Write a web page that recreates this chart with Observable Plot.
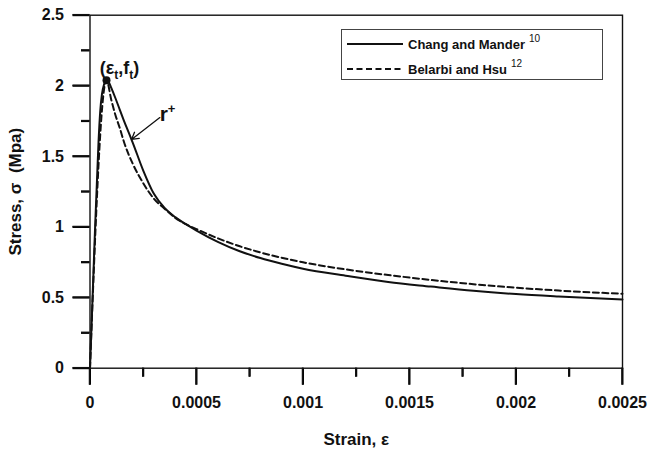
<!DOCTYPE html>
<html>
<head>
<meta charset="utf-8">
<script src="https://cdn.jsdelivr.net/npm/d3@7"></script>
<script src="https://cdn.jsdelivr.net/npm/@observablehq/plot@0.6"></script>
<style>
  html, body { margin: 0; padding: 0; background: #fff; }
  #chart { position: relative; width: 648px; height: 453px; font-family: "Liberation Sans", Arial, sans-serif; }
  #legend {
    position: absolute; left: 341px; top: 29px; width: 262px; height: 51px;
    border: 1px solid #444; box-sizing: border-box; background: #fff;
    font-weight: bold; font-size: 13px; color: #111;
  }
  #legend .row { position: absolute; left: 5px; height: 16px; display: flex; align-items: center; }
  #legend .row svg { margin-right: 5px; }
  #legend sup { font-size: 10px; font-weight: normal; position: relative; top: -2px; margin-left: 4px; }
</style>
</head>
<body>
<div id="chart"></div>
<script>
// Chang and Mander (solid): strain and stress (MPa)
const changStrain = [0, 0.000006, 0.000012, 0.000018, 0.000024, 0.000032, 0.00004, 0.000048, 0.000056, 0.000066, 0.0000775,
  0.00009, 0.0001, 0.00012, 0.00014, 0.00016, 0.00018, 0.0002, 0.00025, 0.0003, 0.00035, 0.0004, 0.00045, 0.0005,
  0.0006, 0.0007, 0.0008, 0.0009, 0.001, 0.0012, 0.0014, 0.0016, 0.0018, 0.002, 0.0022, 0.0025];
const changStress = [0, 0.25, 0.5, 0.75, 1.0, 1.3, 1.6, 1.82, 1.94, 2.01, 2.04,
  2.02, 1.985, 1.91, 1.83, 1.75, 1.675, 1.60, 1.40, 1.235, 1.135, 1.07, 1.02, 0.975,
  0.895, 0.83, 0.78, 0.74, 0.705, 0.655, 0.61, 0.578, 0.548, 0.525, 0.508, 0.487];

// Belarbi and Hsu (dashed)
const belarbiStrain = [0, 0.0000775, 0.0001, 0.00012, 0.00014, 0.00016, 0.0002, 0.00025, 0.0003, 0.00035, 0.0004, 0.00045,
  0.0005, 0.0006, 0.0007, 0.0008, 0.001, 0.0012, 0.0014, 0.0016, 0.0018, 0.002, 0.0022, 0.0025];
const belarbiStress = [0, 2.04, 1.90, 1.79, 1.70, 1.60, 1.45, 1.31, 1.20, 1.13, 1.065, 1.02,
  0.985, 0.92, 0.865, 0.82, 0.75, 0.70, 0.66, 0.625, 0.595, 0.57, 0.55, 0.527];

// Peak point (εt, ft) and the r+ annotation
const peakStrain = [0.0000775];
const peakStress = [2.04];
const arrowFrom = [0.000328, 1.775];
const arrowTo = [0.000195, 1.62];
const rLabelAt = [0.000327, 1.80];

// Axis ticks
const xDomain = [0, 0.0025];
const yDomain = [0, 2.5];
const xTicks = [0, 0.0005, 0.001, 0.0015, 0.002, 0.0025];
const xTickLabels = ["0", "0.0005", "0.001", "0.0015", "0.002", "0.0025"];
const xMinorTicks = [0.00025, 0.00075, 0.00125, 0.00175, 0.00225];
const yTicks = [0, 0.5, 1, 1.5, 2, 2.5];
const yTickLabels = ["0", "0.5", "1", "1.5", "2", "2.5"];
const yMinorTicks = [0.25, 0.75, 1.25, 1.75, 2.25];

const xTitle = "Strain, ε";
const yTitle = "Stress, σ  (Mpa)";
const seriesNames = ["Chang and Mander", "Belarbi and Hsu"];
const seriesRefs = ["10", "12"];

const chang = changStrain.map((e, i) => ({e, s: changStress[i]}));
const belarbi = belarbiStrain.map((e, i) => ({e, s: belarbiStress[i]}));
const peak = peakStrain.map((e, i) => ({e, s: peakStress[i]}));

const ink = "#111";
const W = 648, H = 453;
const M = {left: 89.5, right: 26, top: 14.7, bottom: 85.3};
const frameW = W - M.left - M.right;
const frameH = H - M.top - M.bottom;
// tick sizes in pixels, converted to data units so the ticks hang outside the frame
const majorLen = 17, minorLen = 9, tickHalfWidth = 0.75;
const xPerPx = (xDomain[1] - xDomain[0]) / frameW;
const yPerPx = (yDomain[1] - yDomain[0]) / frameH;

// thin filled bars below the x axis and left of the y axis
const xTickBars = (values, len) => Plot.rect(values, {
  x1: (d) => d - tickHalfWidth * xPerPx, x2: (d) => d + tickHalfWidth * xPerPx,
  y1: yDomain[0], y2: yDomain[0] - len * yPerPx, fill: ink
});
const yTickBars = (values, len) => Plot.rect(values, {
  y1: (d) => d - tickHalfWidth * yPerPx, y2: (d) => d + tickHalfWidth * yPerPx,
  x1: xDomain[0], x2: xDomain[0] - len * xPerPx, fill: ink
});
const xTickRules = (values, len) => Plot.ruleX(values, {
  x: (d) => d, y1: yDomain[0], y2: yDomain[0] - len * yPerPx, stroke: "#000", strokeWidth: 2
});
const yTickRules = (values, len) => Plot.ruleY(values, {
  y: (d) => d, x1: xDomain[0], x2: xDomain[0] - len * xPerPx, stroke: "#000", strokeWidth: 2
});

const plot = Plot.plot({
  width: W,
  height: H,
  marginLeft: M.left,
  marginRight: M.right,
  marginTop: M.top,
  marginBottom: M.bottom,
  style: {fontFamily: "'Liberation Sans', Arial, sans-serif", fontSize: "16px", fontWeight: "bold", color: ink, background: "#fff", overflow: "visible"},
  x: {domain: xDomain},
  y: {domain: yDomain},
  marks: [
    xTickRules(xTicks, majorLen),
    xTickRules(xMinorTicks, minorLen),
    yTickRules(yTicks, majorLen),
    yTickRules(yMinorTicks, minorLen - 0.5),
    xTickBars(xTicks, majorLen),
    xTickBars(xMinorTicks, minorLen),
    yTickBars(yTicks, majorLen),
    yTickBars(yMinorTicks, minorLen - 0.5),
    Plot.axisX({ticks: xTicks, tickSize: 0, tickPadding: majorLen + 11, tickFormat: (d) => xTickLabels[xTicks.indexOf(d)],
      label: xTitle, labelAnchor: "center", labelOffset: 77, labelArrow: "none", fill: ink}),
    Plot.axisY({ticks: yTicks, tickSize: 0, tickPadding: majorLen + 9, tickFormat: (d) => yTickLabels[yTicks.indexOf(d)],
      label: yTitle, labelAnchor: "center", labelOffset: 81, labelArrow: "none", fill: ink}),
    Plot.frame({stroke: ink, strokeWidth: 1.4}),
    Plot.line(belarbi, {x: "e", y: "s", stroke: ink, strokeWidth: 2, strokeDasharray: "6,3.5", curve: "monotone-x"}),
    Plot.line(chang, {x: "e", y: "s", stroke: ink, strokeWidth: 2, curve: "monotone-x"}),
    Plot.dot(peak, {x: "e", y: "s", r: 4, fill: ink, stroke: null}),
    Plot.text(peak, {x: "e", y: "s", text: () => "(εt,ft)", dx: 13, dy: -12, fontSize: 18, fill: ink}),
    Plot.arrow([0], {x1: () => arrowFrom[0], y1: () => arrowFrom[1], x2: () => arrowTo[0], y2: () => arrowTo[1], stroke: ink, strokeWidth: 1.3, headLength: 9}),
    Plot.text([0], {x: () => rLabelAt[0], y: () => rLabelAt[1], text: () => "r+", textAnchor: "start", fontSize: 21, fill: ink})
  ]
});

const svg = d3.select(plot);
// Axis titles a touch larger than the tick labels
svg.selectAll("text").filter(function () { return this.textContent === xTitle || this.textContent === yTitle; })
  .attr("font-size", 17);
// Subscripts on the peak label and superscript on r+
svg.selectAll("text").filter(function () { return this.textContent === "(εt,ft)"; }).each(function () {
  const t = d3.select(this);
  t.text(null);
  t.append("tspan").text("(ε");
  t.append("tspan").attr("dy", 5).attr("font-size", 12).text("t");
  t.append("tspan").attr("dy", -5).text(",f");
  t.append("tspan").attr("dy", 5).attr("font-size", 12).text("t");
  t.append("tspan").attr("dy", -5).text(")");
});
svg.selectAll("text").filter(function () { return this.textContent === "r+"; }).each(function () {
  const t = d3.select(this);
  t.text(null);
  t.append("tspan").text("r");
  t.append("tspan").attr("dy", -8).attr("font-size", 13).text("+");
});

const chart = document.getElementById("chart");
chart.appendChild(plot);

// Legend
const legend = document.createElement("div");
legend.id = "legend";
seriesNames.forEach((name, i) => {
  const row = document.createElement("div");
  row.className = "row";
  row.style.top = (i === 0 ? 6 : 31) + "px";
  const sw = d3.create("svg").attr("width", 56).attr("height", 10);
  sw.append("path").attr("d", "M0,5H56")
    .attr("stroke", ink).attr("stroke-width", 2)
    .attr("stroke-dasharray", i === 0 ? null : "6,3.5");
  row.appendChild(sw.node());
  const label = document.createElement("span");
  label.innerHTML = name + "<sup>" + seriesRefs[i] + "</sup>";
  row.appendChild(label);
  legend.appendChild(row);
});
chart.appendChild(legend);
</script>
</body>
</html>
